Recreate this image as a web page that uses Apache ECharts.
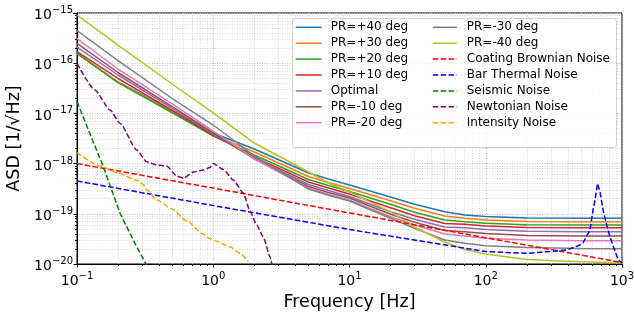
<!DOCTYPE html>
<html><head><meta charset="utf-8">
<script src="https://cdn.jsdelivr.net/npm/echarts@6/dist/echarts.min.js"></script>
<style>html,body{margin:0;padding:0;background:#fff}#c{width:634px;height:317px}</style>
</head><body><div id="c"></div>
<script>
// ---- data ----
const freqPR = [0.1, 0.2, 0.5, 1, 2, 5, 7, 10, 20, 30, 50, 70, 100, 200, 500, 1000];
const prP40 = [1.56e-16, 4.22e-17, 1.12e-17, 4.07e-18, 1.95e-18, 6.50e-19, 4.93e-19, 3.75e-19, 2.16e-19, 1.55e-19, 1.10e-19, 9.46e-20, 8.84e-20, 8.25e-20, 8.14e-20, 8.14e-20];
const prP30 = [1.60e-16, 4.22e-17, 1.07e-17, 3.71e-18, 1.70e-18, 5.53e-19, 4.20e-19, 3.19e-19, 1.82e-19, 1.29e-19, 9.04e-20, 8.14e-20, 7.52e-20, 7.03e-20, 6.96e-20, 6.96e-20];
const prP20 = [1.56e-16, 4.12e-17, 1.03e-17, 3.55e-18, 1.48e-18, 4.82e-19, 3.66e-19, 2.78e-19, 1.55e-19, 1.07e-19, 7.52e-20, 6.96e-20, 6.47e-20, 6.04e-20, 5.98e-20, 5.98e-20];
const prP10 = [1.71e-16, 4.96e-17, 1.15e-17, 3.71e-18, 1.35e-18, 4.30e-19, 3.27e-19, 2.48e-19, 1.32e-19, 9.17e-20, 6.41e-20, 6.18e-20, 5.71e-20, 5.33e-20, 5.28e-20, 5.28e-20];
const prOpt = [2.10e-16, 5.82e-17, 1.26e-17, 3.89e-18, 1.29e-18, 3.83e-19, 2.91e-19, 2.21e-19, 1.10e-19, 7.77e-20, 5.46e-20, 5.28e-20, 4.87e-20, 4.48e-20, 4.40e-20, 4.40e-20];
const prM10 = [2.47e-16, 6.53e-17, 1.36e-17, 4.07e-18, 1.24e-18, 3.50e-19, 2.66e-19, 2.06e-19, 9.77e-20, 6.77e-20, 4.65e-20, 4.40e-20, 4.05e-20, 3.70e-20, 3.61e-20, 3.61e-20];
const prM20 = [3.10e-16, 7.66e-17, 1.54e-17, 4.46e-18, 1.24e-18, 3.27e-19, 2.45e-19, 1.88e-19, 8.75e-20, 5.98e-20, 3.96e-20, 3.61e-20, 3.25e-20, 3.01e-20, 2.91e-20, 2.91e-20];
const prM30 = [4.48e-16, 1.13e-16, 1.98e-17, 5.87e-18, 1.42e-18, 3.12e-19, 2.34e-19, 1.80e-19, 8.14e-20, 5.14e-20, 3.01e-20, 2.58e-20, 2.32e-20, 2.13e-20, 2.04e-20, 2.02e-20];
const prM40 = [9.12e-16, 2.30e-16, 3.85e-17, 1.02e-17, 2.57e-18, 6.80e-19, 4.11e-19, 2.72e-19, 1.09e-19, 5.46e-20, 2.74e-20, 1.94e-20, 1.58e-20, 1.23e-20, 1.11e-20, 1.06e-20];

const coatF = [0.1, 1, 10, 100, 1000];
const coatV = [1.0e-18, 3.25e-19, 1.04e-19, 3.34e-20, 1.07e-20];

const barF = [0.1, 1, 10, 100, 200, 393, 492, 517, 582, 613, 634, 661, 690, 731, 796, 866, 940, 1000];
const barV = [4.50e-19, 1.46e-19, 4.86e-20, 1.77e-20, 1.63e-20, 1.90e-20, 2.39e-20, 2.62e-20, 4.75e-20, 1.19e-19, 1.88e-19, 4.02e-19, 2.72e-19, 1.09e-19, 4.34e-20, 2.18e-20, 1.20e-20, 1.05e-20];

const seisF = [0.1, 0.156, 0.207, 0.274, 0.321, 0.36];
const seisV = [1.71e-17, 8.67e-19, 1.02e-19, 2.21e-20, 1.0e-20, 4.9e-21];

const newtF = [0.1, 0.1355, 0.1746, 0.2069, 0.2744, 0.3248, 0.3846, 0.4553, 0.539, 0.603, 0.714, 0.845, 0.946, 1.0, 1.185, 1.403, 1.662, 1.861, 2.084, 2.33, 2.61, 2.72];
const newtV = [9.95e-17, 2.92e-17, 1.17e-17, 6.35e-18, 1.87e-18, 1.09e-18, 9.38e-19, 8.96e-19, 5.66e-19, 5.09e-19, 6.81e-19, 7.46e-19, 8.36e-19, 1.01e-18, 7.63e-19, 4.71e-19, 2.59e-19, 1.14e-19, 5.98e-20, 3.45e-20, 1.40e-20, 8.3e-21];

const intF = [0.1, 0.1475, 0.2, 0.2757, 0.305, 0.3265, 0.3866, 0.498, 0.642, 0.841, 0.946, 1.065, 1.327, 1.572, 1.808];
const intV = [1.66e-18, 8.95e-19, 6.50e-19, 4.61e-19, 3.92e-19, 2.98e-19, 1.88e-19, 1.25e-19, 7.19e-20, 3.96e-20, 3.22e-20, 2.81e-20, 2.21e-20, 1.63e-20, 1.11e-20];

const prNames = ['PR=+40 deg','PR=+30 deg','PR=+20 deg','PR=+10 deg','Optimal','PR=-10 deg','PR=-20 deg','PR=-30 deg','PR=-40 deg'];
const noiseNames = ['Coating Brownian Noise','Bar Thermal Noise','Seismic Noise','Newtonian Noise','Intensity Noise'];

// ---- build ----
const prColors = ['#1f77b4','#ff7f0e','#2ca02c','#d62728','#9467bd','#8c564b','#e377c2','#7f7f7f','#bcbd22'];
const noiseColors = ['#ff0000','#0000ff','#008000','#800080','#ffa500'];
const prData = [prP40, prP30, prP20, prP10, prOpt, prM10, prM20, prM30, prM40];
const noiseF = [coatF, barF, seisF, newtF, intF];
const noiseV = [coatV, barV, seisV, newtV, intV];
const noiseSmooth = [false, false, false, 0.2, 0.2];

function pairs(xs, ys){ return xs.map((x,i)=>[x, ys[i]]); }
const series = [];
prNames.forEach((n,i)=>{
  series.push({name:n, type:'line', data:pairs(freqPR, prData[i]), symbol:'none', showSymbol:false,
    smooth:false, clip:true,
    lineStyle:{color:prColors[i], width:1.5}, itemStyle:{color:prColors[i]}, z:2});
});
noiseNames.forEach((n,i)=>{
  series.push({name:n, type:'line', data:pairs(noiseF[i], noiseV[i]), symbol:'none', showSymbol:false,
    smooth: noiseSmooth[i], smoothMonotone:'x', clip:true,
    lineStyle:{color:noiseColors[i], width:1.5, type:[5.5,2.4]}, itemStyle:{color:noiseColors[i]}, z:3});
});

function expLabel(v){
  const e = Math.round(Math.log10(v));
  const s = (e<0 ? '\u2212' : '') + Math.abs(e);
  return '{b|10}{s|' + s + '}';
}
const rich = {
  b:{fontFamily:'DejaVu Sans', fontSize:14, color:'#000', verticalAlign:'bottom', lineHeight:19},
  s:{fontFamily:'DejaVu Sans', fontSize:10, color:'#000', verticalAlign:'bottom', lineHeight:19, padding:[0,0,7,0]}
};
const gridMajor = {show:true, lineStyle:{color:'#b0b0b0', type:[1,1.5], width:0.8}};
const gridMinor = {show:true, lineStyle:{color:'#d0d0d0', type:[1,1.5], width:0.8}};

function legendOf(left, iw, pad, names){
  return {orient:'vertical', left:left, top:21.3, padding:0, itemWidth:iw, itemHeight:14, itemGap:3.9,
    selectedMode:false, z:20,
    itemStyle:{opacity:0, borderWidth:0},
    lineStyle:{width:1.5},
    textStyle:{fontFamily:'DejaVu Sans', fontSize:12, color:'#000', padding:[0,0,0,pad]},
    data:names};
}

const option = {
  animation:false,
  backgroundColor:'#fff',
  grid:{left:77, right:12, top:13, bottom:53, containLabel:false, outerBoundsMode:'none',
    show:true, borderColor:'#000', borderWidth:1, backgroundColor:'transparent'},
  xAxis:{type:'log', logBase:10, min:0.1, max:1000,
    name:'Frequency [Hz]', nameLocation:'middle', nameGap:29,
    nameTextStyle:{fontFamily:'DejaVu Sans', fontSize:17.5, color:'#000'},
    axisLine:{show:true, lineStyle:{color:'#000', width:1}},
    axisTick:{show:true, length:3.5, lineStyle:{color:'#000'}},
    minorTick:{show:true, splitNumber:9, length:2, lineStyle:{color:'#000'}},
    axisLabel:{formatter:expLabel, rich:rich, margin:5, showMinLabel:true, showMaxLabel:true},
    splitLine:gridMajor, minorSplitLine:gridMinor},
  yAxis:{type:'log', logBase:10, min:1e-20, max:1e-15,
    name:'ASD [1/\u221AHz]', nameLocation:'middle', nameGap:53,
    nameTextStyle:{fontFamily:'DejaVu Sans', fontSize:17.5, color:'#000'},
    axisLine:{show:true, lineStyle:{color:'#000', width:1}},
    axisTick:{show:true, length:3.5, lineStyle:{color:'#000'}},
    minorTick:{show:true, splitNumber:9, length:2, lineStyle:{color:'#000'}},
    axisLabel:{formatter:expLabel, rich:rich, margin:4, showMinLabel:true, showMaxLabel:true},
    splitLine:gridMajor, minorSplitLine:gridMinor},
  legend:[
    legendOf(295, 26, 4, prNames.slice(0,7)),
    legendOf(432, 24, 5, prNames.slice(7).concat(noiseNames))
  ],
  graphic:[{type:'rect', left:292, top:18, shape:{width:324, height:129, r:3},
    style:{fill:'rgba(255,255,255,0.8)', stroke:'#d0d0d0', lineWidth:1}, z:15}],
  series:series
};
const chart = echarts.init(document.getElementById('c'), null, {renderer:'canvas'});
chart.setOption(option);
</script>
</body></html>
